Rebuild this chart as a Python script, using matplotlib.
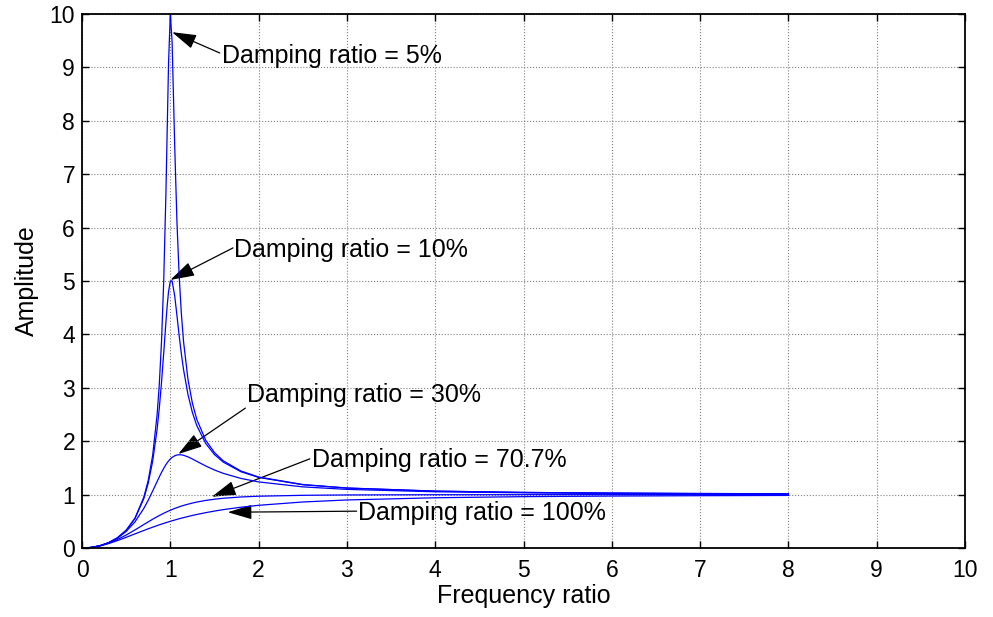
import matplotlib
matplotlib.use('Agg')
import matplotlib.pyplot as plt
from matplotlib.patches import FancyArrowPatch

plt.rcParams['font.family'] = ['Liberation Sans', 'DejaVu Sans']

# frequency ratio samples
freq = [0, 0.1, 0.2, 0.3, 0.4, 0.5, 0.6, 0.7, 0.75, 0.8, 0.85, 0.875, 0.9,
        0.925, 0.95, 0.965, 0.98, 1.0, 1.02, 1.05, 1.075, 1.1, 1.125, 1.15,
        1.2, 1.25, 1.3, 1.4, 1.5, 1.6, 1.8, 2.0, 2.5, 3.0, 4.0, 5.0, 6.0, 7.0, 8.0]

# amplitude curves
amp_5 = [0, 0.010, 0.042, 0.099, 0.190, 0.333, 0.560, 0.952, 1.267, 1.735,
         2.490, 3.060, 3.853, 4.990, 6.630, 7.858, 9.086, 10.0, 9.483, 7.514,
         6.110, 5.104, 4.387, 3.863, 3.157, 2.712, 2.407, 2.020, 1.787, 1.632,
         1.442, 1.330, 1.189, 1.124, 1.066, 1.041, 1.028, 1.021, 1.016]
amp_10 = [0, 0.010, 0.042, 0.099, 0.190, 0.330, 0.553, 0.927, 1.216, 1.625,
          2.220, 2.618, 3.095, 3.646, 4.226, 4.545, 4.803, 5.0, 5.003, 4.718,
          4.354, 3.978, 3.636, 3.339, 2.873, 2.538, 2.292, 1.960, 1.750, 1.608,
          1.428, 1.322, 1.185, 1.122, 1.065, 1.041, 1.028, 1.020, 1.016]
amp_30 = [0, 0.010, 0.041, 0.097, 0.183, 0.310, 0.490, 0.742, 0.896, 1.067,
          1.244, 1.332, 1.415, 1.492, 1.561, 1.597, 1.630, 1.667, 1.696, 1.727,
          1.742, 1.747, 1.745, 1.736, 1.707, 1.667, 1.623, 1.537, 1.461, 1.398,
          1.303, 1.238, 1.145, 1.098, 1.053, 1.034, 1.023, 1.017, 1.013]
amp_707 = [0, 0.010, 0.040, 0.090, 0.158, 0.243, 0.339, 0.440, 0.490, 0.539,
           0.586, 0.608, 0.629, 0.650, 0.670, 0.682, 0.693, 0.707, 0.721, 0.741,
           0.756, 0.771, 0.785, 0.798, 0.821, 0.842, 0.861, 0.891, 0.914, 0.932,
           0.956, 0.970, 0.987, 0.994, 0.998, 0.999, 1.0, 1.0, 1.0]
amp_100 = [0, 0.010, 0.038, 0.083, 0.138, 0.200, 0.265, 0.329, 0.360, 0.390,
           0.419, 0.434, 0.448, 0.461, 0.474, 0.482, 0.490, 0.500, 0.510, 0.524,
           0.536, 0.548, 0.559, 0.569, 0.590, 0.610, 0.628, 0.662, 0.692, 0.719,
           0.764, 0.800, 0.862, 0.900, 0.941, 0.962, 0.973, 0.980, 0.985]

# annotations: text, arrow tip, arrow tail, text position (left, centre)
labels = ['Damping ratio = 5%', 'Damping ratio = 10%', 'Damping ratio = 30%',
          'Damping ratio = 70.7%', 'Damping ratio = 100%']
tips = [(1.02, 9.66), (1.0, 5.02), (1.09, 1.76), (1.47, 0.96), (1.65, 0.67)]
tails = [(1.56, 9.27), (1.71, 5.62), (1.85, 2.62), (2.58, 1.67), (3.11, 0.69)]
text_pos = [(1.585, 9.21), (1.72, 5.58), (1.87, 2.86), (2.60, 1.65), (3.13, 0.665)]

fig = plt.figure(figsize=(9.93, 6.17), dpi=100)
ax = fig.add_axes([0.0826, 0.1118, 0.8892, 0.8655])

for amp in [amp_5, amp_10, amp_30, amp_707, amp_100]:
    ax.plot(freq, amp, color=(0, 0, 1), lw=0.9)

for lab, tip, tail, tp in zip(labels, tips, tails, text_pos):
    arr = FancyArrowPatch(tail, tip, arrowstyle='-|>,head_length=1.5,head_width=0.45',
                          mutation_scale=10, color='black', lw=0.9,
                          shrinkA=0, shrinkB=0)
    ax.add_patch(arr)
    ax.text(tp[0], tp[1], lab, fontsize=18, ha='left', va='center')

ax.set_xlim(0, 10)
ax.set_ylim(0, 10)
ax.set_xticks(range(0, 11))
ax.set_yticks(range(0, 11))
ax.grid(True, color='#808080', linestyle=':', lw=0.8)
ax.tick_params(direction='in', top=True, right=True, labelsize=16.5, length=5, width=1)
ax.tick_params(axis='x', pad=8)
ax.tick_params(axis='y', pad=5)
for s in ax.spines.values():
    s.set_linewidth(1.3)
ax.set_xlabel('Frequency ratio', fontsize=18, labelpad=1)
ax.set_ylabel('Amplitude', fontsize=18, labelpad=8)

fig.savefig('out.png', dpi=100)
